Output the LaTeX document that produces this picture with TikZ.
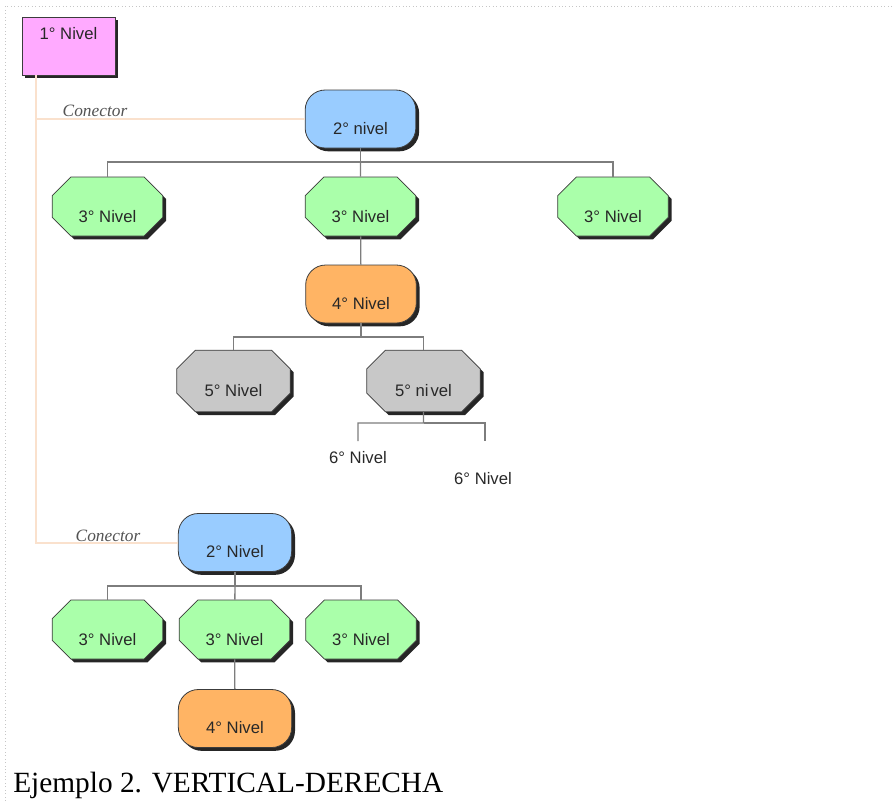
\documentclass[tikz,border=0pt]{standalone}
\usepackage{fontspec}
\setmainfont{Liberation Serif}
\setsansfont{Liberation Sans}
\usetikzlibrary{shapes.misc,shadows}

\definecolor{rosa}{RGB}{255,170,255}
\definecolor{azul}{RGB}{153,204,255}
\definecolor{verde}{RGB}{170,255,170}
\definecolor{naranja}{RGB}{255,180,100}
\definecolor{gris}{RGB}{200,200,200}
\definecolor{melocoton}{RGB}{250,225,205}
\definecolor{linea}{RGB}{125,125,125}
\definecolor{borde}{RGB}{60,60,60}
\definecolor{letra}{RGB}{40,40,40}

\tikzset{
  nivel/.style={draw=borde, line width=0.6pt, inner sep=0pt, minimum width=83pt, minimum height=43.5pt,
    font=\sffamily\fontsize{12.5}{14}\selectfont, text=letra,
    drop shadow={shadow xshift=2.5pt, shadow yshift=-2.5pt, fill=black, opacity=0.85}},
  caja/.style={nivel, rectangle},
  redondo/.style={nivel, rectangle, rounded corners=15pt, text height=33pt, text depth=10.5pt},
  octo/.style={nivel, chamfered rectangle, chamfered rectangle xsep=7pt, chamfered rectangle ysep=7pt,
    text height=26.75pt, text depth=3.5pt},
  rama/.style={draw=linea, line width=1pt},
  enlace/.style={draw=melocoton, line width=1.5pt},
  marco/.style={draw=gray!45, dotted, line width=0.6pt},
  conector/.style={font=\itshape\fontsize{13}{14}\selectfont, text=letra!80, inner sep=0.75pt},
  texto/.style={font=\sffamily\fontsize{12.5}{14}\selectfont, text=letra, inner sep=0.75pt},
  titulo/.style={font=\fontsize{22}{24}\selectfont, inner sep=0pt}
}

\begin{document}
\begin{tikzpicture}[x=0.75pt,y=0.75pt,yscale=-1,xscale=1]
\useasboundingbox (0,0) rectangle (892,801);
%Dotted frame
\draw [marco] (5,801) -- (5,6) -- (892,6) ;

%Shape: first level
\node [caja, fill=rosa, minimum width=69.75pt, text height=16.5pt, text depth=27pt] (n1) at (68.5,46) {1° Nivel};

%Shapes: upper tree
\node [redondo, fill=azul] (n2a) at (360.5,119) {2° nivel};
\node [octo, fill=verde] (n3a) at (107.5,206.5) {3° Nivel};
\node [octo, fill=verde] (n3b) at (360.5,206.5) {3° Nivel};
\node [octo, fill=verde] (n3c) at (613,206.5) {3° Nivel};
\node [redondo, fill=naranja] (n4a) at (361,294) {4° Nivel};
\node [octo, fill=gris, minimum width=85pt, text height=28pt, text depth=4.25pt] (n5a) at (233.5,381) {5° Nivel};
\node [octo, fill=gris, minimum width=85pt, text height=28pt, text depth=4.25pt] (n5b) at (423.5,381) {5° ni\kern1.5pt vel};

% Text Node
\node [texto] (t6a) at (358,458) {6° Nivel};
\node [texto] (t6b) at (483,479) {6° Nivel};

%Shapes: lower tree
\node [redondo, fill=azul, minimum width=85pt] (n2b) at (235,542.5) {2° Nivel};
\node [octo, fill=verde] (n3d) at (107.5,629.5) {3° Nivel};
\node [octo, fill=verde] (n3e) at (234.5,629.5) {3° Nivel};
\node [octo, fill=verde] (n3f) at (361,629.5) {3° Nivel};
\node [redondo, fill=naranja, minimum width=85pt] (n4b) at (235,718.5) {4° Nivel};

%Straight Lines: upper tree
\coordinate (b2a) at (360.5,162);
\draw [rama] (n2a) -- (b2a) -| (n3a) ;
\draw [rama] (b2a) -| (n3c) ;
\draw [rama] (b2a) -- (n3b) ;
\draw [rama] (n3b) -- (n4a) ;
\coordinate (b4a) at (361,337);
\draw [rama] (n4a) -- (b4a) -| (n5a) ;
\draw [rama] (b4a) -| (n5b) ;
\coordinate (b5b) at (423.5,423);
\coordinate (e6a) at (358,441);
\coordinate (e6b) at (485,441);
\draw [rama] (n5b) -- (b5b) -| (e6a) ;
\draw [rama] (b5b) -| (e6b) ;

%Straight Lines: lower tree
\coordinate (b2b) at (235,586);
\draw [rama] (n2b) -- (b2b) -| (n3d) ;
\draw [rama] (b2b) -| (n3f) ;
\draw [rama] (b2b) -- (n3e) ;
\draw [rama] (n3e) -- (n4b) ;

%Connector lines
\coordinate (v0) at (36,75);
\draw [enlace] (v0) |- (n2a) ;
\draw [enlace] (v0) |- (n2b) ;
\node [conector] (c1) at (95,111) {Conector};
\node [conector] (c2) at (108,536) {Conector};

% Text Node
\node [titulo, anchor=base west] (pie) at (13,792) {Ejemplo 2. VERTICAL-DERECHA};

\end{tikzpicture}
\end{document}
